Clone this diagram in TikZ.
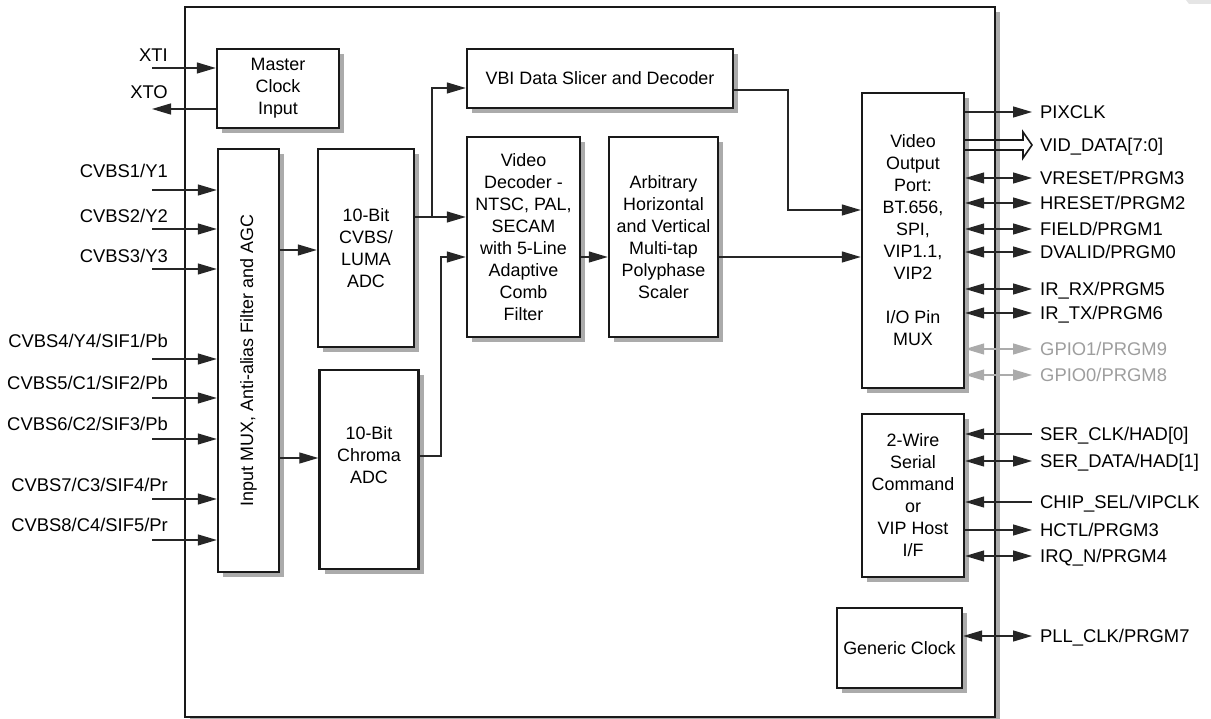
\documentclass[tikz,border=0pt]{standalone}
\usepackage{fontspec}
\setmainfont{Liberation Sans}
\usetikzlibrary{arrows.meta,shadows,calc}
\begin{document}
\begin{tikzpicture}[x=1pt,y=-1pt,
  every node/.style={font=\fontsize{17.9}{22}\selectfont},
  box/.style={draw=black!90, line width=2.4pt, fill=white, inner sep=0pt, align=center,
    drop shadow={shadow xshift=5pt,shadow yshift=-5pt,opacity=1,fill=black!33}},
  conn/.style={line width=1.3pt, draw=black!85, >={Triangle[length=19pt,width=11pt]}},
  dimconn/.style={conn, draw=black!33},
  lbl/.style={inner sep=0pt, font=\fontsize{18.4}{22}\selectfont},
  dimlbl/.style={lbl, text=black!38},
  txt/.style={inner sep=0pt, align=center}
]
\useasboundingbox (0,0) rectangle (1211,719);
\fill[black!10] (1186,0) -- (1211,0) -- (1211,4) -- (1189,4) -- cycle;

% chip outline
\node[box, minimum width=810pt, minimum height=710pt] (chip) at (590,362) {};

% function blocks
\node[box, minimum width=122pt, minimum height=79pt] (mclk) at (278,88.5) {Master\\Clock\\Input};
\node[box, minimum width=61pt, minimum height=423pt] (mux) at (248.5,360.5) {};
\node[txt, rotate=90] at (mux.center) {Input MUX, Anti-alias Filter and AGC};
\node[box, minimum width=96pt, minimum height=198pt] (luma) at (366,248) {10-Bit\\CVBS/\\LUMA\\ADC};
\node[box, minimum width=99pt, minimum height=199pt] (chroma) at (369,469.5) {};
\node[txt] at (369,455) {10-Bit\\Chroma\\ADC};
\node[box, minimum width=266pt, minimum height=59pt] (vbi) at (600,78.5) {VBI Data Slicer and Decoder};
\node[box, minimum width=113pt, minimum height=200pt] (vdec) at (523.5,237) {Video\\Decoder -\\NTSC, PAL,\\SECAM\\with 5-Line\\Adaptive\\Comb\\Filter};
\node[box, minimum width=109pt, minimum height=200pt] (scaler) at (663.5,237) {Arbitrary\\Horizontal\\and Vertical\\Multi-tap\\Polyphase\\Scaler};
\node[box, minimum width=102pt, minimum height=295pt] (vop) at (913,240.5) {Video\\Output\\Port:\\BT.656,\\SPI,\\VIP1.1,\\VIP2\\[22pt]I/O Pin\\MUX};
\node[box, minimum width=102pt, minimum height=163pt] (host) at (913,495.5) {2-Wire\\Serial\\Command\\or\\VIP Host\\I/F};
\node[box, minimum width=125pt, minimum height=80pt] (gclk) at (899.5,648) {Generic Clock};

% crystal pins
\coordinate (xti) at (152,68);
\coordinate (xto) at (152,109);
\draw[conn,->] (xti) -- (xti -| mclk.west);
\draw[conn,->] (xto -| mclk.west) -- (xto);
\node[lbl, anchor=base east] at (168,62) {XTI};
\node[lbl, anchor=base east] at (168,99) {XTO};

% analog video inputs
\foreach \i/\y/\b/\txt in {1/190/178/CVBS1\slash Y1, 2/229/223/CVBS2\slash Y2, 3/269/263/CVBS3\slash Y3,
    4/359/348/CVBS4\slash Y4\slash SIF1\slash Pb, 5/398/390/CVBS5\slash C1\slash SIF2\slash Pb,
    6/439/431/CVBS6\slash C2\slash SIF3\slash Pb, 7/499/491/CVBS7\slash C3\slash SIF4\slash Pr,
    8/540/531/CVBS8\slash C4\slash SIF5\slash Pr}{
  \coordinate (cv\i) at (152,\y);
  \draw[conn,->] (cv\i) -- (cv\i -| mux.west);
  \node[lbl, anchor=base east] (cvl\i) at (168,\b) {\txt};
}

% internal data path
\draw[conn,->] (mux.east |- 0,250) -- (luma.west |- 0,250);
\draw[conn,->] (mux.east |- 0,458) -- (chroma.west |- 0,458);
\draw[conn,->] (luma.east |- 0,217) -- (vdec.west |- 0,217);
\draw[conn,->] (432,217) -- (432,88) -- (vbi.west |- 0,88);
\draw[conn,->] (chroma.east |- 0,456) -- (441,456) -- (441,257) -- (vdec.west |- 0,257);
\draw[conn,->] (vdec.east |- 0,257) -- (scaler.west |- 0,257);
\draw[conn,->] (scaler.east |- 0,257) -- (vop.west |- 0,257);
\draw[conn,->] (vbi.east |- 0,90) -- (788,90) -- (788,210) -- (vop.west |- 0,210);

% video output port pins
\coordinate (pixclk) at (1032,112);
\draw[conn,->] (vop.east |- pixclk) -- (pixclk);
\node[lbl, anchor=base west, yshift=-6.5pt] at ([xshift=8pt]pixclk) {PIXCLK};

\coordinate (viddata) at (1032,145);
\draw[line width=1.6pt, draw=black!90, line join=miter]
  (vop.east |- 0,140) -- (1023,140) -- (1023,132) -- (viddata) -- (1023,158) -- (1023,150) -- (vop.east |- 0,150);
\node[lbl, anchor=base west, yshift=-6.5pt] at ([xshift=8pt]viddata) {VID\_DATA[7:0]};

\foreach \nm/\y/\txt in {vreset/178/VRESET\slash PRGM3, hreset/203/HRESET\slash PRGM2,
    field/229/FIELD\slash PRGM1, dvalid/252/DVALID\slash PRGM0,
    irrx/289/IR\_RX\slash PRGM5, irtx/313/IR\_TX\slash PRGM6}{
  \coordinate (\nm) at (1032,\y);
  \draw[conn,<->] (vop.east |- \nm) -- (\nm);
  \node[lbl, anchor=base west, yshift=-6.5pt] at ([xshift=8pt]\nm) {\txt};
}
\foreach \nm/\y/\txt in {gpioa/349/GPIO1\slash PRGM9, gpiob/375/GPIO0\slash PRGM8}{
  \coordinate (\nm) at (1032,\y);
  \draw[dimconn,<->] (vop.east |- \nm) -- (\nm);
  \node[dimlbl, anchor=base west, yshift=-6.5pt] at ([xshift=8pt]\nm) {\txt};
}

% host interface pins
\foreach \nm/\y/\txt in {serclk/434/SER\_CLK\slash HAD[0], chipsel/502/CHIP\_SEL\slash VIPCLK}{
  \coordinate (\nm) at (1032,\y);
  \draw[conn,->] (\nm) -- (host.east |- \nm);
  \node[lbl, anchor=base west, yshift=-6.5pt] at ([xshift=8pt]\nm) {\txt};
}
\foreach \nm/\y/\txt in {serdata/461/SER\_DATA\slash HAD[1], irqn/556/IRQ\_N\slash PRGM4}{
  \coordinate (\nm) at (1032,\y);
  \draw[conn,<->] (host.east |- \nm) -- (\nm);
  \node[lbl, anchor=base west, yshift=-6.5pt] at ([xshift=8pt]\nm) {\txt};
}
\coordinate (hctl) at (1032,530);
\draw[conn,->] (host.east |- hctl) -- (hctl);
\node[lbl, anchor=base west, yshift=-6.5pt] at ([xshift=8pt]hctl) {HCTL\slash PRGM3};

% clock pin
\coordinate (pllclk) at (1032,636);
\draw[conn,<->] (gclk.east |- pllclk) -- (pllclk);
\node[lbl, anchor=base west, yshift=-6.5pt] at ([xshift=8pt]pllclk) {PLL\_CLK\slash PRGM7};
\end{tikzpicture}
\end{document}
